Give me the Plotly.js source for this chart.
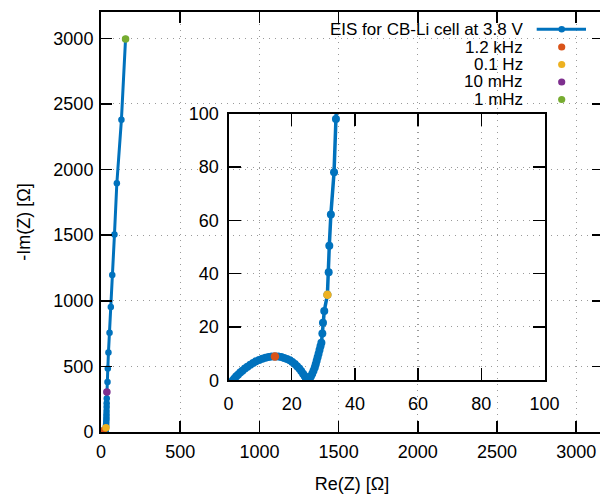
<!DOCTYPE html>
<html>
<head>
<meta charset="utf-8">
<script src="https://cdn.plot.ly/plotly-3.0.1.min.js"></script>
<style>
html, body { margin: 0; padding: 0; overflow: hidden; background: #fff; }
#chart { width: 606px; height: 494px; }
</style>
</head>
<body>
<div id="chart"></div>
<script>
// Nyquist data: Re(Z) and -Im(Z) in Ohm, from high to low frequency
const reZ = [1.3, 1.8, 2.4, 3.0, 3.7, 4.4, 5.2, 6.0, 6.9, 7.8, 8.7, 9.7, 10.7, 11.7, 12.7, 13.7, 14.7, 15.7, 16.7, 17.6, 18.5, 19.4, 20.2, 21.0, 21.7, 22.4, 23.0, 23.6, 24.1, 24.5, 24.9, 25.3, 25.7, 26.1, 26.5, 26.9, 27.3, 27.6, 27.9, 28.2, 28.5, 28.8, 29.1, 29.4, 29.7, 29.9, 30.3, 31.3, 31.7, 31.9, 32.4, 33.4, 34.0, 34.3, 34.6, 35.0, 35.4, 35.8, 36.3, 37.0, 41, 43, 47, 54, 62, 71, 85, 100, 129, 155];
const imZ = [-0.2, 0.6, 1.4, 2.1, 2.9, 3.6, 4.4, 5.1, 5.8, 6.5, 7.1, 7.6, 8.1, 8.5, 8.7, 8.9, 8.9, 8.9, 8.7, 8.4, 8.0, 7.5, 6.9, 6.1, 5.3, 4.4, 3.5, 2.5, 1.6, 0.8, 0.2, 0.0, 0.6, 1.5, 2.5, 3.6, 4.8, 6.0, 7.3, 8.6, 10.0, 11.4, 12.8, 14.1, 17.6, 21.6, 26.0, 32.1, 40.5, 50.5, 62.2, 78.0, 98.0, 115, 135, 160, 190, 220, 255, 305, 381, 483, 605, 757, 953, 1196, 1504, 1895, 2380, 2995];

// Marked frequencies
const freqLabels = ['1.2 kHz', '0.1 Hz', '10 mHz', '1 mHz'];
const freqRe = [14.7, 31.3, 37.0, 155];
const freqIm = [8.9, 32.1, 305, 2995];
const freqColors = ['#D95319', '#EDB120', '#7E2F8E', '#77AC30'];

const seriesName = 'EIS for CB-Li cell at 3.8 V';
const blue = '#0072BD';

const mainTicks = [0, 500, 1000, 1500, 2000, 2500, 3000];
const insetTicks = [0, 20, 40, 60, 80, 100];

const FONT = 'Liberation Sans, Arial, Helvetica, sans-serif';
const W = 606, H = 494, ML = 101, MR = 3, MT = 12, MB = 62;
const PW = W - ML - MR, PH = H - MT - MB;
const P = px => (px - ML) / PW;
const Q = py => (H - MB - py) / PH;

const traces = [];
// main
traces.push({x: reZ, y: imZ, xaxis: 'x', yaxis: 'y', type: 'scatter', mode: 'lines+markers',
  name: seriesName, line: {color: blue, width: 3}, marker: {color: blue, size: 6.5}, showlegend: false});
freqLabels.forEach((lab, i) => {
  traces.push({x: [freqRe[i]], y: [freqIm[i]], xaxis: 'x', yaxis: 'y', type: 'scatter', mode: 'markers',
    name: lab, marker: {color: freqColors[i], size: 7.5}, showlegend: false});
});
// inset
traces.push({x: reZ, y: imZ, xaxis: 'x2', yaxis: 'y2', type: 'scatter', mode: 'lines+markers',
  name: seriesName, line: {color: blue, width: 3.5}, marker: {color: blue, size: 8}, showlegend: false});
freqLabels.forEach((lab, i) => {
  traces.push({x: [freqRe[i]], y: [freqIm[i]], xaxis: 'x2', yaxis: 'y2', type: 'scatter', mode: 'markers',
    name: lab, marker: {color: freqColors[i], size: 8.5}, showlegend: false});
});

const gridStyle = {showgrid: true, gridcolor: '#9a9a9a', gridwidth: 1, griddash: '1px,5px'};
const axisBase = Object.assign({
  showline: true, linecolor: '#000', linewidth: 2, mirror: 'ticks', ticks: 'inside', automargin: false,
  tickcolor: '#000', tickwidth: 1.5, zeroline: false, tickfont: {family: FONT, size: 18, color: '#000'}
}, gridStyle);

const layout = {
  width: W, height: H,
  margin: {l: ML, r: MR, t: MT, b: MB, pad: 0},
  paper_bgcolor: '#fff', plot_bgcolor: 'rgba(0,0,0,0)',
  font: {family: FONT, size: 18, color: '#000'},
  showlegend: false,
  xaxis: Object.assign({}, axisBase, {domain: [0, 1], range: [0, 3169], tickvals: mainTicks, ticklen: 11,
    ticklabelstandoff: 2,
    title: {text: 'Re(Z) [Ω]', font: {family: FONT, size: 18, color: '#000'}, standoff: 20}}),
  yaxis: Object.assign({}, axisBase, {domain: [0, 1], range: [0, 3200], tickvals: mainTicks, ticklen: 11,
    ticklabelstandoff: 2,
    title: {text: '-Im(Z) [Ω]', font: {family: FONT, size: 18, color: '#000'}, standoff: 18}}),
  xaxis2: Object.assign({}, axisBase, {domain: [P(228.5), P(544.5)], range: [0, 100], tickvals: insetTicks,
    ticklen: 12, anchor: 'y2', ticklabelstandoff: 6}),
  yaxis2: Object.assign({}, axisBase, {domain: [Q(380.3), Q(113.7)], range: [0, 100], tickvals: insetTicks,
    ticklen: 12, anchor: 'x2', ticklabelstandoff: 4}),
  annotations: [],
  shapes: []
};

// legend (text right-aligned, key to the right)
const legendRows = [29.3, 47.0, 64.5, 82.0, 99.5];
const legendTexts = [seriesName].concat(freqLabels);
legendTexts.forEach((t, i) => {
  layout.annotations.push({xref: 'paper', yref: 'paper', x: P(524), y: Q(legendRows[i]),
    xanchor: 'right', yanchor: 'middle', text: t, showarrow: false, height: 17, borderpad: 0,
    font: {family: FONT, size: 17, color: '#000'}});
});
layout.shapes.push({type: 'line', xref: 'paper', yref: 'paper', x0: P(536.7), x1: P(586),
  y0: Q(legendRows[0]), y1: Q(legendRows[0]), line: {color: blue, width: 3}});
const keyColors = [blue].concat(freqColors);
keyColors.forEach((c, i) => {
  const r = i === 0 ? 3.3 : 3.6;
  layout.shapes.push({type: 'circle', xref: 'paper', yref: 'paper', xsizemode: 'pixel', ysizemode: 'pixel',
    xanchor: P(561.7), yanchor: Q(legendRows[i]), x0: -r, x1: r, y0: -r, y1: r,
    fillcolor: c, line: {width: 0}});
});

Plotly.newPlot('chart', traces, layout, {displayModeBar: false, responsive: false, staticPlot: true});
</script>
</body>
</html>
